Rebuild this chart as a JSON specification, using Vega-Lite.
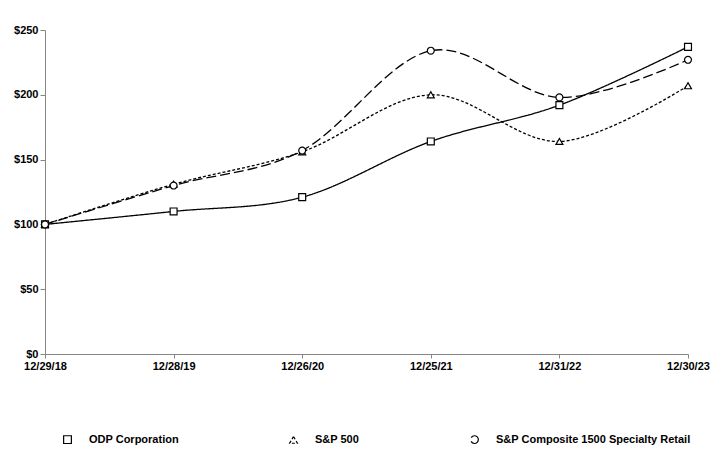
{
  "$schema": "https://vega.github.io/schema/vega-lite/v6.json",
  "width": 643,
  "height": 324,
  "autosize": {"type": "none"},
  "padding": {"left": 45, "top": 30, "right": 37, "bottom": 105},
  "background": "white",
  "config": {
    "view": {"stroke": null},
    "font": "Liberation Sans",
    "axis": {"labelFont": "Liberation Sans", "labelFontWeight": "bold", "labelFontSize": 11, "labelColor": "black", "domainColor": "#868686", "tickColor": "#868686", "grid": false, "title": null},
    "legend": {
      "title": null,
      "orient": "none",
      "legendX": 17,
      "legendY": 404,
      "direction": "horizontal",
      "columns": 3,
      "columnPadding": 108,
      "symbolSize": 60,
      "labelOffset": 16,
      "labelFontSize": 11,
      "labelFontWeight": "bold",
      "labelColor": "black",
      "labelFont": "Liberation Sans",
      "labelLimit": 400,
      "symbolStrokeColor": "black",
      "symbolStrokeWidth": 1.2,
      "symbolFillColor": "white"
    }
  },
  "data": {
    "values": [
      {"date": "12/29/18", "series": "ODP Corporation", "value": 100},
      {"date": "12/28/19", "series": "ODP Corporation", "value": 110},
      {"date": "12/26/20", "series": "ODP Corporation", "value": 121},
      {"date": "12/25/21", "series": "ODP Corporation", "value": 164},
      {"date": "12/31/22", "series": "ODP Corporation", "value": 192},
      {"date": "12/30/23", "series": "ODP Corporation", "value": 237},
      {"date": "12/29/18", "series": "S&P 500", "value": 100},
      {"date": "12/28/19", "series": "S&P 500", "value": 131},
      {"date": "12/26/20", "series": "S&P 500", "value": 156},
      {"date": "12/25/21", "series": "S&P 500", "value": 200},
      {"date": "12/31/22", "series": "S&P 500", "value": 164},
      {"date": "12/30/23", "series": "S&P 500", "value": 207},
      {"date": "12/29/18", "series": "S&P Composite 1500 Specialty Retail", "value": 100},
      {"date": "12/28/19", "series": "S&P Composite 1500 Specialty Retail", "value": 130},
      {"date": "12/26/20", "series": "S&P Composite 1500 Specialty Retail", "value": 157},
      {"date": "12/25/21", "series": "S&P Composite 1500 Specialty Retail", "value": 234},
      {"date": "12/31/22", "series": "S&P Composite 1500 Specialty Retail", "value": 198},
      {"date": "12/30/23", "series": "S&P Composite 1500 Specialty Retail", "value": 227}
    ]
  },
  "encoding": {
    "x": {
      "field": "date", "type": "ordinal", "sort": null,
      "scale": {"type": "point", "padding": 0},
      "axis": {"labelAngle": 0, "tickSize": 4, "labelPadding": 2, "labelFlush": false}
    },
    "y": {
      "field": "value", "type": "quantitative",
      "scale": {"domain": [0, 250], "nice": false},
      "axis": {"values": [0, 50, 100, 150, 200, 250], "labelExpr": "'$' + datum.value", "tickSize": 5, "labelPadding": 2}
    }
  },
  "layer": [
    {
      "mark": {"type": "line", "interpolate": "cardinal", "tension": 0, "color": "black", "strokeWidth": 1.3},
      "encoding": {
        "strokeDash": {
          "field": "series", "type": "nominal",
          "scale": {"domain": ["ODP Corporation", "S&P 500", "S&P Composite 1500 Specialty Retail"], "range": [[1, 0], [3, 2], [10, 4]]},
          "legend": {}
        }
      }
    },
    {
      "mark": {"type": "point", "filled": false, "fill": "white", "fillOpacity": 1, "stroke": "black", "strokeWidth": 1.2, "size": 48, "opacity": 1},
      "encoding": {
        "shape": {
          "field": "series", "type": "nominal",
          "scale": {"domain": ["ODP Corporation", "S&P 500", "S&P Composite 1500 Specialty Retail"], "range": ["square", "triangle-up", "circle"]},
          "legend": null
        }
      }
    }
  ]
}
